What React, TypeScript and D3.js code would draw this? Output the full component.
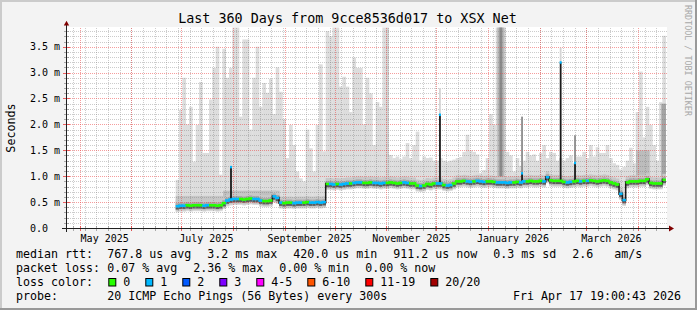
import React from "react";
import * as d3 from "d3";

const W = 697;
const H = 310;
const DAY = 86400000;
const T0 = Date.UTC(2025, 3, 22, 19, 0, 43);
const T1 = Date.UTC(2026, 3, 17, 19, 0, 43);
const DATA_START = Date.UTC(2025, 5, 27, 14, 40);
const STEP_DAYS = 2;
const Y_MAX = 3.861;

const yTickValues = [0, 0.5, 1, 1.5, 2, 2.5, 3, 3.5];
const yTickLabels = ["0.0", "0.5 m", "1.0 m", "1.5 m", "2.0 m", "2.5 m", "3.0 m", "3.5 m"];

// light smoke top (max of 20 pings), ms, one value per 2-day bucket
const smokeMax = [
  0.93, 2.28, 2.9, 2.0, 2.34, 1.28, 1.99, 2.82, 1.45, 1.45,
  2.48, 3.09, 3.5, 1.03, 3.46, 2.9, 3.09, 3.87, 3.87, 2.15,
  3.64, 3.64, 1.9, 2.9, 3.5, 2.34, 2.8, 2.61, 2.88, 2.2,
  3.1, 2.63, 2.1, 1.35, 1.99, 1.6, 1.09, 0.96, 0.9, 1.9,
  1.54, 1.09, 1.99, 3.16, 1.48, 3.8, 3.7, 3.87, 3.87, 2.73,
  2.92, 2.73, 2.24, 3.29, 3.09, 3.09, 2.0, 2.9, 2.6, 1.6,
  2.43, 2.34, 3.87, 1.41, 1.41, 1.35, 1.38, 1.33, 1.38, 1.64,
  1.35, 1.6, 1.86, 1.3, 1.38, 1.35, 1.36, 1.3, 1.3, 1.35,
  1.3, 1.28, 1.3, 1.32, 1.35, 1.37, 1.47, 1.8, 1.5, 1.47,
  1.42, 1.06, 1.12, 1.35, 2.2, 1.99, 3.87, 3.87, 3.87, 1.47,
  1.4, 1.09, 1.35, 1.2, 1.3, 1.47, 1.4, 1.42, 1.3, 1.45,
  1.6, 1.35, 1.47, 1.45, 1.3, 1.35, 1.3, 1.35, 1.4, 1.25,
  1.38, 1.38, 1.47, 1.35, 1.6, 1.38, 1.56, 1.45, 1.45, 1.6,
  1.35, 1.25, 1.22, 1.13, 1.18, 1.3, 1.55, 1.25, 2.24, 3.02,
  1.75, 2.34, 1.99, 1.6, 1.3, 2.43, 3.71,
];

// median rtt, ms
const median = [
  0.42, 0.43, 0.43, 0.44, 0.43, 0.44, 0.44, 0.44, 0.43, 0.44,
  0.44, 0.44, 0.43, 0.44, 0.48, 0.53, 0.55, 0.56, 0.56, 0.56,
  0.55, 0.56, 0.57, 0.56, 0.56, 0.53, 0.52, 0.52, 0.53, 0.61,
  0.58, 0.49, 0.48, 0.49, 0.49, 0.48, 0.49, 0.49, 0.49, 0.5,
  0.49, 0.49, 0.5, 0.49, 0.5, 0.85, 0.85, 0.84, 0.85, 0.84,
  0.85, 0.86, 0.86, 0.87, 0.88, 0.88, 0.87, 0.87, 0.88, 0.87,
  0.87, 0.86, 0.87, 0.87, 0.88, 0.87, 0.86, 0.87, 0.88, 0.87,
  0.86, 0.86, 0.82, 0.81, 0.82, 0.85, 0.84, 0.86, 0.86, 0.86,
  0.83, 0.82, 0.83, 0.86, 0.9, 0.9, 0.91, 0.9, 0.89, 0.9,
  0.91, 0.9, 0.89, 0.9, 0.9, 0.89, 0.88, 0.88, 0.88, 0.87,
  0.88, 0.88, 0.89, 0.88, 0.9, 0.9, 0.91, 0.9, 0.9, 0.91,
  0.9, 0.98, 0.92, 0.91, 0.91, 0.91, 0.89, 0.88, 0.89, 0.9,
  0.91, 0.9, 0.91, 0.91, 0.92, 0.91, 0.9, 0.91, 0.92, 0.91,
  0.88, 0.86, 0.84, 0.66, 0.54, 0.88, 0.9, 0.9, 0.9, 0.91,
  0.91, 0.94, 0.87, 0.86, 0.86, 0.86, 0.93,
];

// lost pings per bucket (index into loss colours)
const loss = [
  1, 1, 1, 0, 0, 0, 0, 0, 1, 1,
  0, 0, 0, 0, 0, 1, 1, 1, 1, 0,
  0, 0, 0, 1, 1, 1, 0, 0, 0, 1,
  1, 1, 0, 0, 0, 1, 1, 1, 0, 0,
  1, 1, 1, 1, 1, 0, 1, 1, 0, 1,
  1, 1, 0, 1, 1, 1, 0, 0, 0, 1,
  1, 1, 1, 0, 0, 0, 0, 0, 1, 1,
  0, 0, 0, 1, 0, 0, 0, 0, 1, 1,
  0, 1, 1, 0, 0, 0, 0, 1, 1, 0,
  1, 1, 1, 0, 0, 0, 1, 1, 1, 1,
  1, 0, 0, 1, 1, 0, 0, 0, 0, 0,
  1, 1, 0, 0, 0, 0, 0, 1, 1, 0,
  0, 1, 0, 1, 0, 0, 0, 0, 0, 0,
  0, 0, 0, 1, 1, 0, 0, 0, 0, 0,
  0, 0, 0, 0, 0, 0, 0,
];

// short latency spikes: time, median top, smoke top
const spikeTimes = [
  Date.UTC(2025, 6, 30, 19), Date.UTC(2025, 11, 3, 4), Date.UTC(2026, 0, 21, 10),
  Date.UTC(2026, 1, 13, 14), Date.UTC(2026, 1, 22, 5),
];
const spikeTops = [1.18, 2.19, 1.06, 3.2, 1.26];
const spikeSmoke = [1.18, 2.7, 2.15, 3.48, 1.79];
const spikeLoss = [1, 1, 1, 1, 1];

// denser smoke regions: from, to, bottom, top
const bandFrom = [
  Date.UTC(2025, 5, 27, 14, 40), Date.UTC(2025, 6, 26), Date.UTC(2025, 7, 29),
  Date.UTC(2025, 9, 31, 19), Date.UTC(2026, 0, 6, 14), Date.UTC(2026, 0, 7, 20),
  Date.UTC(2026, 2, 30, 19), Date.UTC(2026, 3, 15),
];
const bandTo = [
  Date.UTC(2025, 6, 26), Date.UTC(2025, 7, 29), Date.UTC(2025, 8, 25, 19),
  Date.UTC(2025, 10, 2, 12), Date.UTC(2026, 0, 10, 20), Date.UTC(2026, 0, 9, 14),
  Date.UTC(2026, 3, 8), Date.UTC(2026, 3, 17, 19),
];
const bandBottom = [0.41, 0.5, 0.47, 0.85, 0.86, 0.86, 0.88, 0.86];
const bandTop = [0.62, 0.72, 0.6, 3.87, 3.87, 3.87, 1.5, 2.4];
const bandShade = ["#c6c6c6", "#c0c0c0", "#c6c6c6", "#d2d2d2", "#b8b8b8", "#8a8a8a", "#bcbcbc", "#a4a4a4"];

const lossColors = ["#26ff00", "#00b8ff", "#0059ff", "#7e00ff", "#ff00ff", "#ff5500", "#ff0000", "#a10000"];
const lossLabels = ["0", "1", "2", "3", "4-5", "6-10", "11-19", "20/20"];

const legendRow1 = ["767.8 us avg", "3.2 ms max", "420.0 us min", "911.2 us now", "0.3 ms sd", "2.6   am/s"];
const legendRow2 = ["0.07 % avg", "2.36 % max", "0.00 % min", "0.00 % now"];
const probeText = "20 ICMP Echo Pings (56 Bytes) every 300s";
const dateText = "Fri Apr 17 19:00:43 2026";
const titleText = "Last 360 Days from 9cce8536d017 to XSX Net";

const MONO = "'DejaVu Sans Mono', 'Liberation Mono', monospace";
const CH = 7.0; // legend character advance
const GAP = 16; // gap between legend items
const COL1 = 107.3;

function rowPositions(items: string[]) {
  const out: number[] = [];
  let cx = COL1;
  items.forEach((s) => {
    out.push(cx);
    cx += s.length * CH + GAP;
  });
  return out;
}

export default function App() {
  const x = d3.scaleUtc().domain([T0, T1]).range([66, 666]);
  const y = d3.scaleLinear().domain([0, Y_MAX]).range([228, 28]);
  const bx = (i: number) => x(DATA_START + i * STEP_DAYS * DAY);

  const weeks = d3.utcSunday.range(new Date(T0), new Date(T1));
  const months = d3.utcMonth.range(new Date(T0), new Date(T1));
  const labelMonths = months.filter((m) => m.getUTCMonth() % 2 === 0);
  const fmt = d3.utcFormat("%B %Y");
  const minorY = d3.range(1, 40).map((k) => k / 10).filter((v) => y(v) >= 28 && Math.round(v * 10) % 5 !== 0);
  const majorY = yTickValues.filter((v) => v > 0);

  const px = (v: number) => Math.round(v) + 0.5;

  const r1x = rowPositions(legendRow1);
  const r2x = rowPositions(legendRow2);

  let cx = 108.3;
  const boxes = lossLabels.map((lab, i) => {
    const b = { x: cx, lab, col: lossColors[i] };
    cx += 15 + lab.length * CH + 15;
    return b;
  });

  // render a legend string keeping its runs of spaces (monospace layout)
  const monoText = (s: string, x0: number, y0: number, key: string) => {
    const parts: React.ReactNode[] = [];
    let pos = 0;
    s.split(/( +)/).forEach((tok, k) => {
      if (tok.length === 0) return;
      if (tok.trim().length > 0) {
        parts.push(<text key={key + "-" + k} x={x0 + pos * CH} y={y0}>{tok}</text>);
      }
      pos += tok.length;
    });
    return <g key={key}>{parts}</g>;
  };

  return (
    <svg width={W} height={H} style={{ position: "absolute", left: 0, top: 0 }} xmlns="http://www.w3.org/2000/svg">
      <rect x={0} y={0} width={W} height={H} fill="#f3f3f3" />
      <rect x={0} y={0} width={W} height={2} fill="#cbcbcb" />
      <rect x={0} y={0} width={2} height={H} fill="#cbcbcb" />
      <rect x={0} y={H - 2} width={W} height={2} fill="#999999" />
      <rect x={W - 2} y={0} width={2} height={H} fill="#999999" />

      {/* canvas */}
      <rect x={66} y={27} width={601} height={201} fill="#ffffff" />

      {/* light smoke */}
      <g>
        {smokeMax.map((v, i) => {
          const x0 = bx(i), x1 = bx(i + 1);
          const yt = y(v);
          const yb = y(median[i]) + 6;
          return <rect key={i} x={x0} y={yt} width={x1 - x0 + 0.3} height={Math.max(0, yb - yt)} fill="#dddddd" />;
        })}
      </g>
      {/* dense smoke */}
      <g>
        {bandFrom.map((f, i) => (
          <rect key={i} x={x(f)} y={y(bandTop[i])} width={x(bandTo[i]) - x(f)} height={y(bandBottom[i]) - y(bandTop[i])} fill={bandShade[i]} />
        ))}
      </g>
      {/* smoke near median */}
      <g>
        {median.map((m, i) => {
          const x0 = bx(i), w = bx(i + 1) - x0 + 0.3, ym = y(m);
          return (
            <g key={i}>
              <rect x={x0} y={ym - 6} width={w} height={11} fill="#c8c8c8" />
              <rect x={x0} y={ym - 3} width={w} height={6.5} fill="#a8a8a8" />
              <rect x={x0} y={ym + 1} width={w} height={2.2} fill="#5c5c5c" />
            </g>
          );
        })}
      </g>

      {/* grid */}
      <g strokeDasharray="1,1" shapeRendering="crispEdges" strokeWidth={1}>
        {weeks.map((w, i) => (
          <line key={"w" + i} x1={px(x(w))} x2={px(x(w))} y1={28} y2={228} stroke="rgba(120,120,120,0.38)" />
        ))}
        {minorY.map((v, i) => (
          <line key={"h" + i} x1={66} x2={667} y1={px(y(v))} y2={px(y(v))} stroke="rgba(120,120,120,0.38)" />
        ))}
        {months.map((m, i) => (
          <line key={"m" + i} x1={px(x(m))} x2={px(x(m))} y1={28} y2={228} stroke="rgba(235,60,60,0.5)" />
        ))}
        {majorY.map((v, i) => (
          <line key={"M" + i} x1={66} x2={667} y1={px(y(v))} y2={px(y(v))} stroke="rgba(235,60,60,0.5)" />
        ))}
      </g>

      {/* spikes */}
      <g>
        {spikeTimes.map((t, i) => {
          const sx = x(t);
          const bi = Math.floor((t - DATA_START) / (STEP_DAYS * DAY));
          const yb = y(median[bi]);
          const yt = y(spikeTops[i]);
          const ys = y(spikeSmoke[i]);
          return (
            <g key={i}>
              <rect x={sx - 0.9} y={ys} width={1.8} height={yt - ys} fill={i === 2 || i === 4 ? "#8c8c8c" : "#d4d4d4"} />
              <rect x={sx - 0.9} y={yt} width={1.8} height={yb - yt} fill="#1a1a1a" />
              <rect x={sx - 1} y={yt - 1} width={2} height={2.5} fill={lossColors[spikeLoss[i]]} />
            </g>
          );
        })}
      </g>

      {/* median line */}
      <g>
        {median.map((m, i) => {
          if (i === 0) return null;
          const xb = bx(i);
          const a = y(median[i - 1]), b = y(m);
          const big = Math.abs(a - b) > 3;
          return (
            <rect key={"c" + i} x={xb - 0.75} y={Math.min(a, b) - 1.25} width={1.5} height={Math.abs(a - b) + 2.5}
              fill={big ? "#1a1a1a" : lossColors[loss[i]]} />
          );
        })}
        {median.map((m, i) => {
          const x0 = bx(i), x1 = bx(i + 1);
          return <rect key={i} x={x0} y={y(m) - 1.25} width={x1 - x0 + 0.2} height={2.5} fill={lossColors[loss[i]]} />;
        })}
      </g>

      {/* axes ticks */}
      <g shapeRendering="crispEdges">
        {weeks.map((w, i) => (
          <line key={"tw" + i} x1={px(x(w))} x2={px(x(w))} y1={226} y2={231} stroke="rgba(120,120,120,0.6)" />
        ))}
        {months.map((m, i) => (
          <line key={"tm" + i} x1={px(x(m))} x2={px(x(m))} y1={226} y2={231} stroke="rgba(235,60,60,0.8)" />
        ))}
        {minorY.map((v, i) => (
          <line key={"ty" + i} x1={64} x2={69} y1={px(y(v))} y2={px(y(v))} stroke="rgba(120,120,120,0.6)" />
        ))}
        {yTickValues.map((v, i) => (
          <line key={"tY" + i} x1={63} x2={70} y1={px(y(v))} y2={px(y(v))} stroke="rgba(235,60,60,0.8)" />
        ))}
        <line x1={62} x2={670} y1={228.5} y2={228.5} stroke="#202020" />
        <line x1={66.5} x2={66.5} y1={25} y2={232} stroke="#202020" />
      </g>
      <polygon points="669,225.5 674,228.5 669,231.5" fill="#800000" />
      <polygon points="63.8,25.5 66.5,20.8 69.2,25.5" fill="#800000" />

      {/* y labels */}
      <g fontFamily={MONO} fontSize={10} fill="#000">
        {yTickValues.map((v, i) => (
          <text key={i} x={30} y={y(v) + 3.6}>{yTickLabels[i]}</text>
        ))}
        {labelMonths.map((m, i) => (
          <text key={"l" + i} x={x(d3.utcDay.offset(m, 15))} y={242} textAnchor="middle">{fmt(m)}</text>
        ))}
      </g>

      <text x={15} y={128} transform="rotate(-90 15 128)" textAnchor="middle" fontFamily={MONO} fontSize={11.7} fill="#000">Seconds</text>
      <text x={347.5} y={23} textAnchor="middle" fontFamily={MONO} fontSize={13.4} fill="#000">{titleText}</text>
      <text x={685} y={5} transform="rotate(90 685 5)" fontFamily={MONO} fontSize={8.4} fill="#a8a8a8">RRDTOOL / TOBI OETIKER</text>

      {/* legend */}
      <g fontFamily={MONO} fontSize={11.63} fill="#000">
        <text x={16} y={257.7}>median rtt:</text>
        {legendRow1.map((s, i) => monoText(s, r1x[i], 257.7, "a" + i))}
        <text x={16} y={271.8}>packet loss:</text>
        {legendRow2.map((s, i) => monoText(s, r2x[i], 271.8, "b" + i))}
        <text x={16} y={285.9}>loss color:</text>
        {boxes.map((b, i) => (
          <g key={"c" + i}>
            <rect x={b.x + 0.5} y={278.5} width={7} height={7.5} fill={b.col} stroke="#000" strokeWidth={1} />
            <text x={b.x + 15} y={285.9}>{b.lab}</text>
          </g>
        ))}
        <text x={16} y={300}>probe:</text>
        <text x={107.3} y={300}>{probeText}</text>
        <text x={681} y={300} textAnchor="end">{dateText}</text>
      </g>
    </svg>
  );
}
